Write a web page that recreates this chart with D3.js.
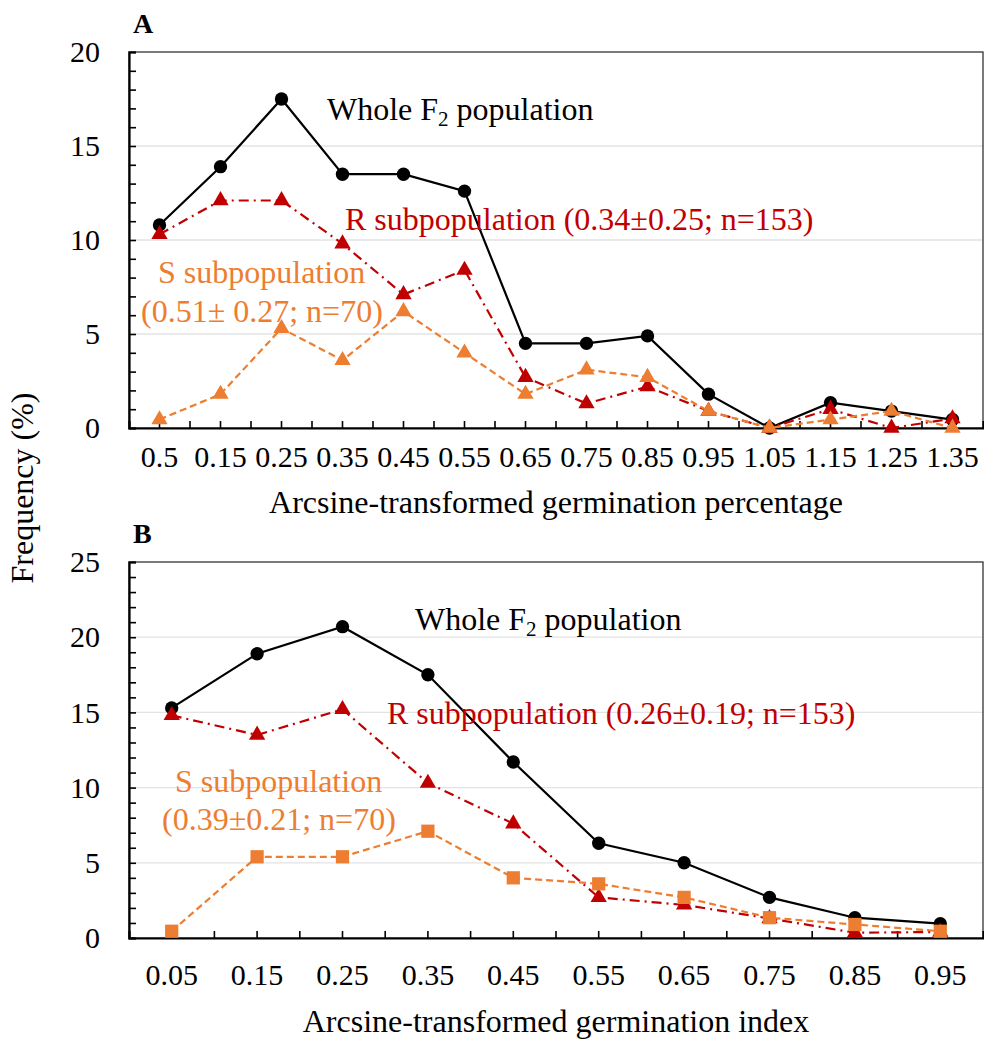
<!DOCTYPE html>
<html>
<head>
<meta charset="utf-8">
<script src="https://cdn.jsdelivr.net/npm/d3@7"></script>
<style>
  body { margin: 0; background: #fff; }
  svg { display: block; font-family: "Liberation Serif", "Times New Roman", serif; }
</style>
</head>
<body>
<div class="canvas"></div>
<script>
// panel A: arcsine-transformed germination percentage
const catsA = ["0.5", "0.15", "0.25", "0.35", "0.45", "0.55", "0.65", "0.75", "0.85", "0.95", "1.05", "1.15", "1.25", "1.35"];
const wholeA = [10.8, 13.9, 17.5, 13.5, 13.5, 12.6, 4.5, 4.5, 4.9, 1.8, 0, 1.35, 0.9, 0.45];
const rA = [10.3, 12.1, 12.1, 9.8, 7.1, 8.4, 2.7, 1.3, 2.2, 0.9, 0, 1.0, 0, 0.5];
const sA = [0.45, 1.8, 5.3, 3.6, 6.2, 4.0, 1.8, 3.1, 2.7, 0.9, 0, 0.45, 0.9, 0];

// panel B: arcsine-transformed germination index
const catsB = ["0.05", "0.15", "0.25", "0.35", "0.45", "0.55", "0.65", "0.75", "0.85", "0.95"];
const wholeB = [15.3, 18.9, 20.7, 17.5, 11.7, 6.3, 5.0, 2.7, 1.35, 0.95];
const rB = [14.8, 13.5, 15.2, 10.3, 7.6, 2.7, 2.2, 1.3, 0.35, 0.4];
const sB = [0.45, 5.4, 5.4, 7.1, 4.0, 3.6, 2.7, 1.35, 0.9, 0.45];

const width = 984;
const height = 1042;
const left = 129, right = 983;

const BLACK = "#000000", RED = "#c00000", ORANGE = "#ed7d31";

const svg = d3.select(".canvas").append("svg")
  .attr("width", width)
  .attr("height", height);

function panel(opt) {
  const x = d3.scaleBand().domain(opt.cats).range([left, right]).padding(0);
  const y = d3.scaleLinear().domain([0, opt.yMax]).range([opt.bottom, opt.top]);
  const g = svg.append("g");

  // gridlines
  g.selectAll(".grid")
    .data(d3.range(5, opt.yMax, 5))
    .enter().append("line")
    .attr("x1", left).attr("x2", right)
    .attr("y1", d => y(d)).attr("y2", d => y(d))
    .attr("stroke", "#e3e3e3").attr("stroke-width", 1.3);

  // frame
  g.append("rect")
    .attr("x", left).attr("y", opt.top)
    .attr("width", right - left).attr("height", opt.bottom - opt.top)
    .attr("fill", "none").attr("stroke", "#333").attr("stroke-width", 1.3);

  // y axis: minor ticks every 1, labels every 5
  const yAxis = d3.axisLeft(y)
    .tickValues(d3.range(0, opt.yMax + 1, 1))
    .tickSize(-7)
    .tickPadding(29)
    .tickFormat(d => d % 5 === 0 ? d : "");
  const ya = g.append("g").attr("transform", `translate(${left},0)`).call(yAxis);
  ya.select(".domain").attr("stroke", "#000").attr("stroke-width", 2.2);
  ya.selectAll(".tick line").attr("stroke", "#000").attr("stroke-width", 1.6);
  ya.selectAll("text").attr("font-size", 30).attr("fill", "#000")
    .attr("font-family", "Liberation Serif");

  // x axis: ticks at band centres and boundaries
  const xAxis = d3.axisBottom(x).tickSize(-7).tickPadding(opt.labelPad);
  const xa = g.append("g").attr("transform", `translate(0,${opt.bottom})`).call(xAxis);
  xa.select(".domain").attr("stroke", "#000").attr("stroke-width", 2.2);
  xa.selectAll(".tick line").attr("stroke", "#000").attr("stroke-width", 1.6);
  xa.selectAll("text").attr("font-size", 30).attr("fill", "#000")
    .attr("font-family", "Liberation Serif");
  g.selectAll(".btick")
    .data(opt.cats.slice(1))
    .enter().append("line")
    .attr("x1", d => x(d)).attr("x2", d => x(d))
    .attr("y1", opt.bottom).attr("y2", opt.bottom - 7)
    .attr("stroke", "#000").attr("stroke-width", 1.6);

  const cx = (d, i) => x(opt.cats[i]) + x.bandwidth() / 2;
  const line = d3.line().x(cx).y(d => y(d));

  const series = [
    { values: opt.whole, color: BLACK, dash: null, marker: "circle" },
    { values: opt.r, color: RED, dash: "10,5,2,5", marker: "triangle" },
    { values: opt.s, color: ORANGE, dash: "7,4", marker: opt.sMarker }
  ];

  series.forEach(s => {
    g.append("path")
      .datum(s.values)
      .attr("d", line)
      .attr("fill", "none")
      .attr("stroke", s.color)
      .attr("stroke-width", 2.2)
      .attr("stroke-dasharray", s.dash);
    const sym = s.marker === "circle" ? d3.symbolCircle
      : s.marker === "square" ? d3.symbolSquare : d3.symbolTriangle;
    const size = s.marker === "circle" ? 140 : s.marker === "square" ? 175 : 115;
    g.selectAll(null)
      .data(s.values)
      .enter().append("path")
      .attr("d", d3.symbol().type(sym).size(size))
      .attr("transform", (d, i) => `translate(${cx(d, i)},${y(d)})`)
      .attr("fill", s.color);
  });

  // panel letter
  g.append("text")
    .attr("x", 133).attr("y", opt.letterY)
    .attr("font-size", 28).attr("font-weight", "bold")
    .text(opt.letter);

  // axis title
  g.append("text")
    .attr("x", (left + right) / 2).attr("y", opt.titleY)
    .attr("text-anchor", "middle").attr("font-size", 32)
    .text(opt.title);

  // annotations
  const whole = g.append("text")
    .attr("x", opt.wholeX).attr("y", opt.wholeY)
    .attr("font-size", 32).attr("fill", BLACK);
  whole.append("tspan").text("Whole F");
  whole.append("tspan").attr("font-size", 21).attr("dy", 6).text("2");
  whole.append("tspan").attr("dy", -6).text(" population");

  g.append("text")
    .attr("x", opt.rX).attr("y", opt.rY)
    .attr("font-size", 32).attr("fill", RED)
    .text(opt.rLabel);

  g.append("text")
    .attr("x", opt.s1X).attr("y", opt.s1Y)
    .attr("font-size", 32).attr("fill", ORANGE)
    .text("S subpopulation");
  g.append("text")
    .attr("x", opt.s2X).attr("y", opt.s2Y)
    .attr("font-size", 32).attr("fill", ORANGE)
    .text(opt.sLabel);
}

panel({
  cats: catsA, whole: wholeA, r: rA, s: sA, sMarker: "triangle",
  yMax: 20, top: 52, bottom: 428, labelPad: 18,
  letter: "A", letterY: 33,
  title: "Arcsine-transformed germination percentage", titleY: 513,
  wholeX: 327, wholeY: 120,
  rX: 345, rY: 230, rLabel: "R subpopulation (0.34±0.25; n=153)",
  s1X: 158, s1Y: 283, s2X: 141, s2Y: 322, sLabel: "(0.51± 0.27; n=70)"
});

panel({
  cats: catsB, whole: wholeB, r: rB, s: sB, sMarker: "square",
  yMax: 25, top: 562, bottom: 938, labelPad: 26,
  letter: "B", letterY: 543,
  title: "Arcsine-transformed germination index", titleY: 1032,
  wholeX: 415, wholeY: 630,
  rX: 387, rY: 724, rLabel: "R subpopulation (0.26±0.19; n=153)",
  s1X: 175, s1Y: 792, s2X: 162, s2Y: 830, sLabel: "(0.39±0.21; n=70)"
});

// shared y title
svg.append("text")
  .attr("transform", "translate(33,488) rotate(-90)")
  .attr("text-anchor", "middle")
  .attr("font-size", 32)
  .text("Frequency (%)");
</script>
</body>
</html>
